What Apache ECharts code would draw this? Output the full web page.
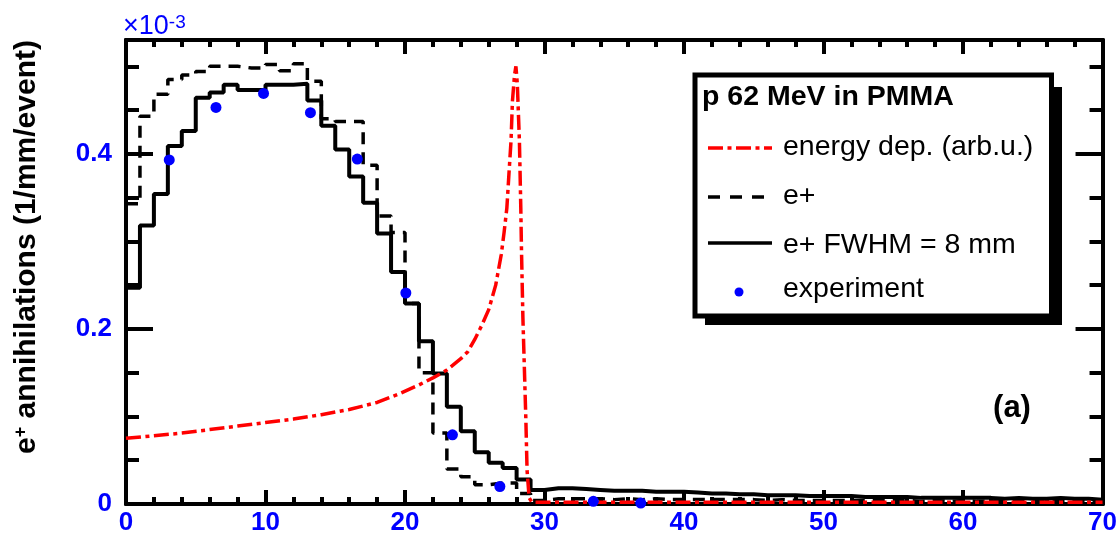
<!DOCTYPE html>
<html><head><meta charset="utf-8">
<script src="https://cdn.jsdelivr.net/npm/echarts@6/dist/echarts.min.js"></script>
<style>html,body{margin:0;padding:0;background:#fff}#c{width:1120px;height:539px}</style>
</head><body><div id="c"></div>
<script>
// ---- data (y values in units of 1e-3 annihilations / mm / event) ----
// histograms: 1 mm bins starting at 0 mm
const binWidth = 1;
const ePlusFWHM = [0.247,0.318,0.354,0.409,0.426,0.464,0.470,0.479,0.473,0.473,
  0.479,0.479,0.480,0.461,0.432,0.405,0.374,0.344,0.309,0.265,
  0.229,0.186,0.149,0.111,0.083,0.059,0.047,0.041,0.028,0.016,
  0.018,0.018,0.017,0.016,0.015,0.015,0.015,0.014,0.014,0.014,
  0.013,0.012,0.012,0.011,0.011,0.010,0.010,0.010,0.009,0.009,
  0.009,0.009,0.008,0.008,0.008,0.008,0.007,0.007,0.007,0.007,
  0.007,0.007,0.006,0.007,0.006,0.006,0.007,0.006,0.006,0.005];
const ePlus = [0.343,0.443,0.468,0.485,0.490,0.494,0.500,0.500,0.498,0.498,
  0.502,0.495,0.503,0.483,0.440,0.437,0.437,0.387,0.329,0.310,
  0.229,0.150,0.081,0.040,0.031,0.022,0.024,0.024,0.012,0.004,
  0.006,0.006,0.006,0.006,0.005,0.006,0.005,0.006,0.005,0.005,
  0.005,0.005,0.005,0.005,0.005,0.004,0.005,0.004,0.004,0.004,
  0.004,0.004,0.004,0.004,0.004,0.004,0.003,0.004,0.003,0.004,
  0.003,0.003,0.003,0.004,0.003,0.003,0.003,0.003,0.003,0.003];
const energyDepX = [0,2,4,6,8,10,12,14,16,18,19.6,21,22,23,24,24.5,25,25.5,26,26.5,26.9,27.1,27.3,27.45,27.6,27.7,27.85,27.95,28.05,28.2,28.3,28.35,28.45,28.66,28.75,28.9,29.1,70];
const energyDepY = [0.075,0.078,0.081,0.085,0.089,0.093,0.097,0.102,0.108,0.116,0.126,0.136,0.144,0.153,0.166,0.174,0.188,0.204,0.222,0.250,0.285,0.310,0.338,0.377,0.415,0.460,0.490,0.500,0.480,0.415,0.338,0.289,0.213,0.098,0.038,0.007,0.002,0.002];
const expX = [3.1,6.45,9.86,13.22,16.58,20.06,23.4,26.8,33.5,36.9];
const expY = [0.393,0.453,0.469,0.447,0.394,0.241,0.079,0.020,0.003,0.001];
const xTickValues = [0,10,20,30,40,50,60,70];
const yLabelValues = [0,0.2,0.4];

// ---- build ----
const BLUE = '#0000ff';
const FONT = 'Liberation Sans';
function histPoints(vals){
  const pts = vals.map((v,i)=>[i*binWidth, v]);
  pts.push([vals.length*binWidth, vals[vals.length-1]]);
  return pts;
}
const axisLine = {show:true, onZero:false, lineStyle:{color:'#000', width:4}};
function xAx(pos, labels){
  return {type:'value', position:pos, min:xTickValues[0], max:xTickValues[xTickValues.length-1], interval:10,
    splitLine:{show:false}, axisLine:axisLine,
    axisTick:{show:true, inside:true, length:14, lineStyle:{color:'#000', width:4}},
    minorTick:{show:true, splitNumber:5, length:7, lineStyle:{color:'#000', width:4}},
    axisLabel:{show:labels, color:BLUE, fontWeight:'bold', fontSize:26, fontFamily:FONT, margin:6,
      formatter:v=>xTickValues.includes(v)?String(v):''}};
}
function yAx(pos, interval, len, labels){
  return {type:'value', position:pos, min:0, max:0.53, interval:interval,
    splitLine:{show:false}, axisLine:axisLine,
    axisTick:{show:true, inside:true, length:len, lineStyle:{color:'#000', width:4}},
    axisLabel:{show:labels, color:BLUE, fontWeight:'bold', fontSize:26, fontFamily:FONT, margin:14,
      showMaxLabel:false,
      formatter:v=>{ const m = yLabelValues.find(t=>Math.abs(t-v)<1e-9); return m===undefined?'':(m===0?'0':m.toFixed(1)); }}};
}

const option = {
  animation:false,
  backgroundColor:'#fff',
  grid:{left:126, right:14.5, top:40, bottom:35},
  xAxis:[xAx('bottom', true), xAx('top', false)],
  yAxis:[yAx('left',0.05,13,false), yAx('left',0.2,27,true), yAx('right',0.05,13,false), yAx('right',0.2,27,false)],
  series:[
    {name:'e+', type:'line', step:'end', xAxisIndex:0, yAxisIndex:1, data:histPoints(ePlus), showSymbol:false, symbol:'none',
      lineStyle:{color:'#000', width:3.5, type:[12,8]}, z:2},
    {name:'e+ FWHM = 8 mm', type:'line', step:'end', xAxisIndex:0, yAxisIndex:1, data:histPoints(ePlusFWHM), showSymbol:false, symbol:'none',
      lineStyle:{color:'#000', width:4}, z:3},
    {name:'energy dep. (arb.u.)', type:'line', xAxisIndex:0, yAxisIndex:1, data:energyDepX.map((x,i)=>[x, energyDepY[i]]), showSymbol:false, symbol:'none',
      lineStyle:{color:'#ff0000', width:3.5, type:[15,4.5,4,4.5]}, z:4},
    {name:'experiment', type:'scatter', xAxisIndex:0, yAxisIndex:1, data:expX.map((x,i)=>[x, expY[i]]), symbol:'circle', symbolSize:11,
      itemStyle:{color:BLUE, opacity:1}, z:5}
  ],
  graphic:[
    {type:'text', z:50, rotation:Math.PI/2, x:27, y:247, style:{text:'{b|e}{s|+}{b| annihilations (1/mm/event)}', align:'center', verticalAlign:'middle',
      rich:{b:{fontSize:30, fontWeight:'bold', fontFamily:FONT, fill:'#000'},
            s:{fontSize:18, fontWeight:'bold', fontFamily:FONT, fill:'#000', verticalAlign:'top'}}}},
    {type:'text', z:50, style:{x:123, y:27, text:'{a|×10}{b|-3}', verticalAlign:'middle',
      rich:{a:{fontSize:27, fontFamily:FONT, fill:BLUE}, b:{fontSize:19, fontFamily:FONT, fill:BLUE, verticalAlign:'top'}}}},
    {type:'text', z:50, style:{x:1012, y:408, text:'(a)', align:'center', verticalAlign:'middle', font:'bold 31px "Liberation Sans"', fill:'#000'}},
    {type:'rect', z:100, shape:{x:705, y:87, width:357, height:238}, style:{fill:'#000'}},
    {type:'rect', z:101, shape:{x:695, y:75, width:356.5, height:241}, style:{fill:'#fff', stroke:'#000', lineWidth:5}},
    {type:'text', z:102, style:{x:702, y:97, text:'p 62 MeV in PMMA', verticalAlign:'middle', font:'bold 28.5px "Liberation Sans"', fill:'#000'}},
    {type:'line', z:102, shape:{x1:708, y1:148, x2:772, y2:148}, style:{stroke:'#ff0000', lineWidth:3.5, lineDash:[15,4.5,4,4.5]}},
    {type:'text', z:102, style:{x:783, y:147, text:'energy dep. (arb.u.)', verticalAlign:'middle', font:'28.5px "Liberation Sans"', fill:'#000'}},
    {type:'line', z:102, shape:{x1:708, y1:197, x2:772, y2:197}, style:{stroke:'#000', lineWidth:3.5, lineDash:[12,10]}},
    {type:'text', z:102, style:{x:783, y:196, text:'e+', verticalAlign:'middle', font:'28.5px "Liberation Sans"', fill:'#000'}},
    {type:'line', z:102, shape:{x1:708, y1:243, x2:772, y2:243}, style:{stroke:'#000', lineWidth:3.5}},
    {type:'text', z:102, style:{x:783, y:245, text:'e+ FWHM = 8 mm', verticalAlign:'middle', font:'28.5px "Liberation Sans"', fill:'#000'}},
    {type:'circle', z:102, shape:{cx:739, cy:292, r:4.5}, style:{fill:BLUE}},
    {type:'text', z:102, style:{x:783, y:289, text:'experiment', verticalAlign:'middle', font:'28.5px "Liberation Sans"', fill:'#000'}}
  ]
};
const chart = echarts.init(document.getElementById('c'), null, {renderer:'canvas'});
chart.setOption(option);
</script></body></html>
